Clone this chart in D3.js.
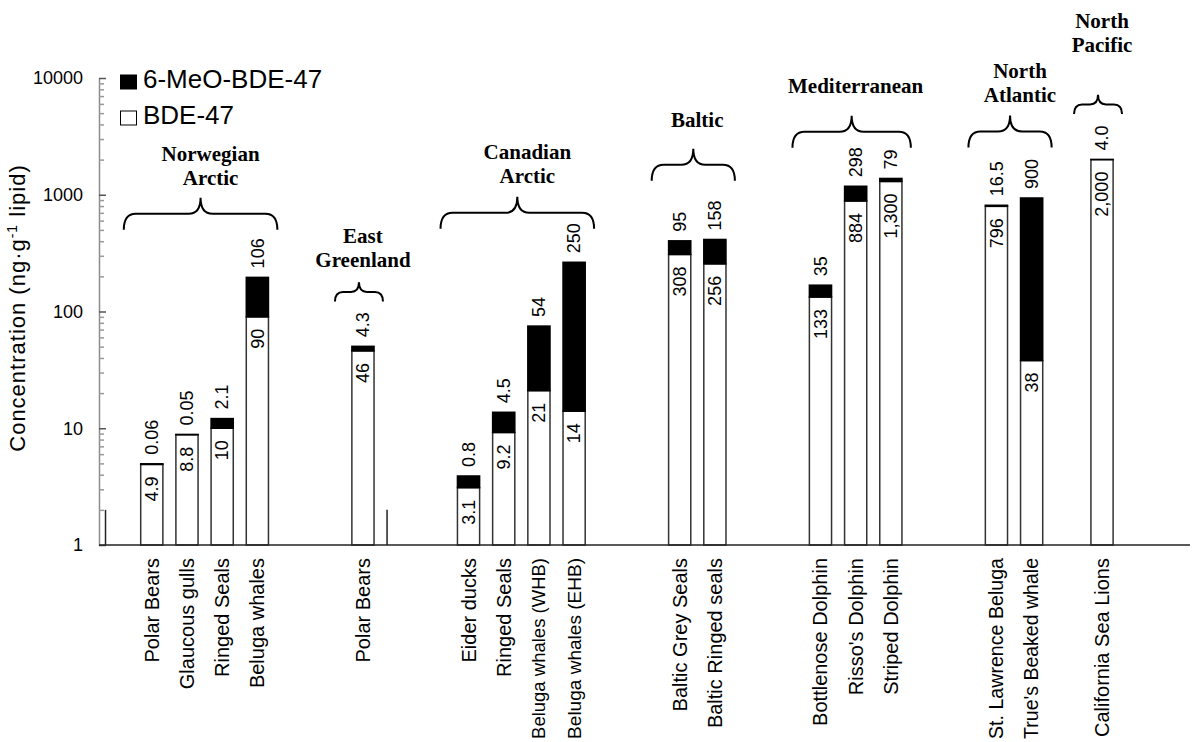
<!DOCTYPE html>
<html>
<head>
<meta charset="utf-8">
<script src="https://cdn.jsdelivr.net/npm/d3@7"></script>
<style>
  body { margin: 0; background: #fff; }
  text { font-family: Arial, "Liberation Sans", sans-serif; fill: #000; }
  .region { font-family: "Times New Roman", "Liberation Serif", serif; font-weight: bold; font-size: 21px; }
</style>
</head>
<body>
<svg id="chart" width="1200" height="742"></svg>
<script>
// slot 0..30 along the x axis, gaps between regions are empty slots
const species = ["Polar Bears", "Glaucous gulls", "Ringed Seals", "Beluga whales",
  "Polar Bears",
  "Eider ducks", "Ringed Seals", "Beluga whales (WHB)", "Beluga whales (EHB)",
  "Baltic Grey Seals", "Baltic Ringed seals",
  "Bottlenose Dolphin", "Risso's Dolphin", "Striped Dolphin",
  "St. Lawrence Beluga", "True's Beaked whale",
  "California Sea Lions"];
const slotOf = [1, 2, 3, 4, 7, 10, 11, 12, 13, 16, 17, 20, 21, 22, 25, 26, 28];
const bde47 = [4.9, 8.8, 10, 90, 46, 3.1, 9.2, 21, 14, 308, 256, 133, 884, 1300, 796, 38, 2000];
const meoBde47 = [0.06, 0.05, 2.1, 106, 4.3, 0.8, 4.5, 54, 250, 95, 158, 35, 298, 79, 16.5, 900, 4.0];
const bdeLabels = ["4.9", "8.8", "10", "90", "46", "3.1", "9.2", "21", "14", "308", "256", "133", "884", "1,300", "796", "38", "2,000"];
const meoLabels = ["0.06", "0.05", "2.1", "106", "4.3", "0.8", "4.5", "54", "250", "95", "158", "35", "298", "79", "16.5", "900", "4.0"];

// stray marks at value 2 in two empty slots
const strayslots = [0, 8];
const strayValue = 2;

const regions = [["Norwegian", "Arctic"], ["East", "Greenland"], ["Canadian", "Arctic"], ["Baltic"],
  ["Mediterranean"], ["North", "Atlantic"], ["North", "Pacific"]];
const regionSpan = [[0, 3], [4, 4], [5, 8], [9, 10], [11, 13], [14, 15], [16, 16]];
// brace and label heights, in concentration units
const braceLevel = [686, 147, 700, 1804, 3459, 3486, 5940];
const labelLevel = [1216, 241, 1265, 3817, 7470, 6280, 16560];

const yTicks = [1, 10, 100, 1000, 10000];
const legendKeys = ["6-MeO-BDE-47", "BDE-47"];

const svg = d3.select('#chart');
const nSlots = 31;

const x = d3.scaleBand()
  .domain(d3.range(nSlots))
  .range([99, 1190])
  .paddingInner(0.37)
  .paddingOuter(0.185);

const y = d3.scaleLog()
  .domain([1, 10000])
  .range([545, 78]);

const cx = i => x(slotOf[i]) + x.bandwidth() / 2;

// y axis: labelled decades, then minor ticks
const minor = [];
[1, 10, 100, 1000].forEach(d => { for (let k = 2; k <= 9; k++) minor.push(d * k) });

const yAxisG = svg.append('g')
  .attr('transform', 'translate(99,0)')
  .call(d3.axisLeft(y).tickValues(yTicks).tickFormat(d3.format('d'))
    .tickSizeInner(-7).tickSizeOuter(0).tickPadding(16));
yAxisG.select('.domain').attr('stroke', '#8c8c8c').attr('stroke-width', 1.5);
yAxisG.selectAll('.tick line').attr('stroke', '#555').attr('stroke-width', 1.5);
yAxisG.selectAll('.tick text').style('font-size', '18px').style('font-family', 'Arial, "Liberation Sans", sans-serif');

const yMinor = svg.append('g')
  .attr('transform', 'translate(99,0)')
  .call(d3.axisLeft(y).tickValues(minor).tickFormat('').tickSizeInner(-5).tickSizeOuter(0));
yMinor.select('.domain').remove();
yMinor.selectAll('.tick line').attr('stroke', '#999').attr('stroke-width', 1.5);

// stray marks
svg.append('g')
  .selectAll('line')
  .data(strayslots)
  .join('line')
    .attr('x1', d => x(d)).attr('x2', d => x(d))
    .attr('y1', y(1)).attr('y2', y(strayValue))
    .attr('stroke', '#222').attr('stroke-width', 1.5);

// bars
const bars = svg.append('g').attr('class', 'bars')
  .selectAll('g')
  .data(species.map((s, i) => i))
  .join('g');

bars.append('rect')
  .attr('x', i => x(slotOf[i]))
  .attr('width', x.bandwidth())
  .attr('y', i => y(bde47[i]))
  .attr('height', i => y(1) - y(bde47[i]))
  .attr('fill', '#fff')
  .attr('stroke', '#333')
  .attr('stroke-width', 1.5);

bars.append('rect')
  .attr('x', i => x(slotOf[i]))
  .attr('width', x.bandwidth())
  .attr('y', i => y(bde47[i] + meoBde47[i]))
  .attr('height', i => y(bde47[i]) - y(bde47[i] + meoBde47[i]))
  .attr('fill', '#000')
  .attr('stroke', '#000')
  .attr('stroke-width', 1.5);

bars.append('text')
  .attr('transform', i => `translate(${cx(i)},${y(bde47[i]) + 12}) rotate(-90)`)
  .attr('text-anchor', 'end')
  .attr('dy', '0.35em')
  .style('font-size', '18px')
  .text(i => bdeLabels[i]);

bars.append('text')
  .attr('transform', i => `translate(${cx(i)},${y(bde47[i] + meoBde47[i]) - 9}) rotate(-90)`)
  .attr('text-anchor', 'start')
  .attr('dy', '0.35em')
  .style('font-size', '18px')
  .text(i => meoLabels[i]);

// x axis line
svg.append('line')
  .attr('x1', 99).attr('x2', 1190)
  .attr('y1', y(1)).attr('y2', y(1))
  .attr('stroke', '#222').attr('stroke-width', 1.5);

// category labels, long ones shrunk to stay inside the picture
const labelTop = 558, room = 742 - labelTop - 3;
svg.append('g')
  .selectAll('text')
  .data(species)
  .join('text')
    .attr('transform', (d, i) => `translate(${cx(i)},${labelTop}) rotate(-90)`)
    .attr('text-anchor', 'end')
    .attr('dy', '0.35em')
    .style('font-size', '20px')
    .text(d => d)
    .each(function () {
      const len = this.getComputedTextLength();
      if (len > room) d3.select(this).style('font-size', (20 * room / len).toFixed(2) + 'px');
    });

// region braces and names
regions.forEach((names, r) => {
  const [a, b] = regionSpan[r];
  const mid = (cx(a) + cx(b)) / 2;
  const x0 = cx(a) - 28, x1 = cx(b) + 20;
  const bm = (x0 + x1) / 2;
  const h = y(braceLevel[r]);
  const dep = Math.min(16, (x1 - x0) / 5);
  const c = Math.min(12, (x1 - x0) / 6);
  const p = d3.path();
  p.moveTo(x0, h + dep);
  p.quadraticCurveTo(x0, h, x0 + c, h);
  p.lineTo(bm - c, h);
  p.quadraticCurveTo(bm, h, bm, h - dep);
  p.quadraticCurveTo(bm, h, bm + c, h);
  p.lineTo(x1 - c, h);
  p.quadraticCurveTo(x1, h, x1, h + dep);
  svg.append('path')
    .attr('d', p.toString())
    .attr('fill', 'none')
    .attr('stroke', '#000')
    .attr('stroke-width', 2);

  const base = y(labelLevel[r]);
  names.forEach((n, k) => {
    svg.append('text')
      .attr('class', 'region')
      .attr('x', mid + (names.length > 1 && b > a ? 6 : 0))
      .attr('y', base - (names.length - 1 - k) * 24)
      .attr('text-anchor', 'middle')
      .text(n);
  });
});

// legend
const legend = svg.append('g').attr('transform', 'translate(120,75)');
legendKeys.forEach((k, i) => {
  legend.append('rect')
    .attr('x', 0.5).attr('y', i * 36)
    .attr('width', 16).attr('height', 14)
    .attr('fill', i === 0 ? '#000' : '#fff')
    .attr('stroke', '#000').attr('stroke-width', 1);
  legend.append('text')
    .attr('x', 23).attr('y', i * 36 + 13)
    .style('font-size', '26px')
    .text(k);
});

// y axis title
const yt = svg.append('text')
  .attr('transform', 'translate(25,308) rotate(-90)')
  .attr('text-anchor', 'middle')
  .style('font-size', '22px')
  .style('letter-spacing', '1px');
yt.append('tspan').text('Concentration (ng·g');
yt.append('tspan').attr('baseline-shift', 'super').style('font-size', '14px').text('-1');
yt.append('tspan').text(' lipid)');
</script>
</body>
</html>
